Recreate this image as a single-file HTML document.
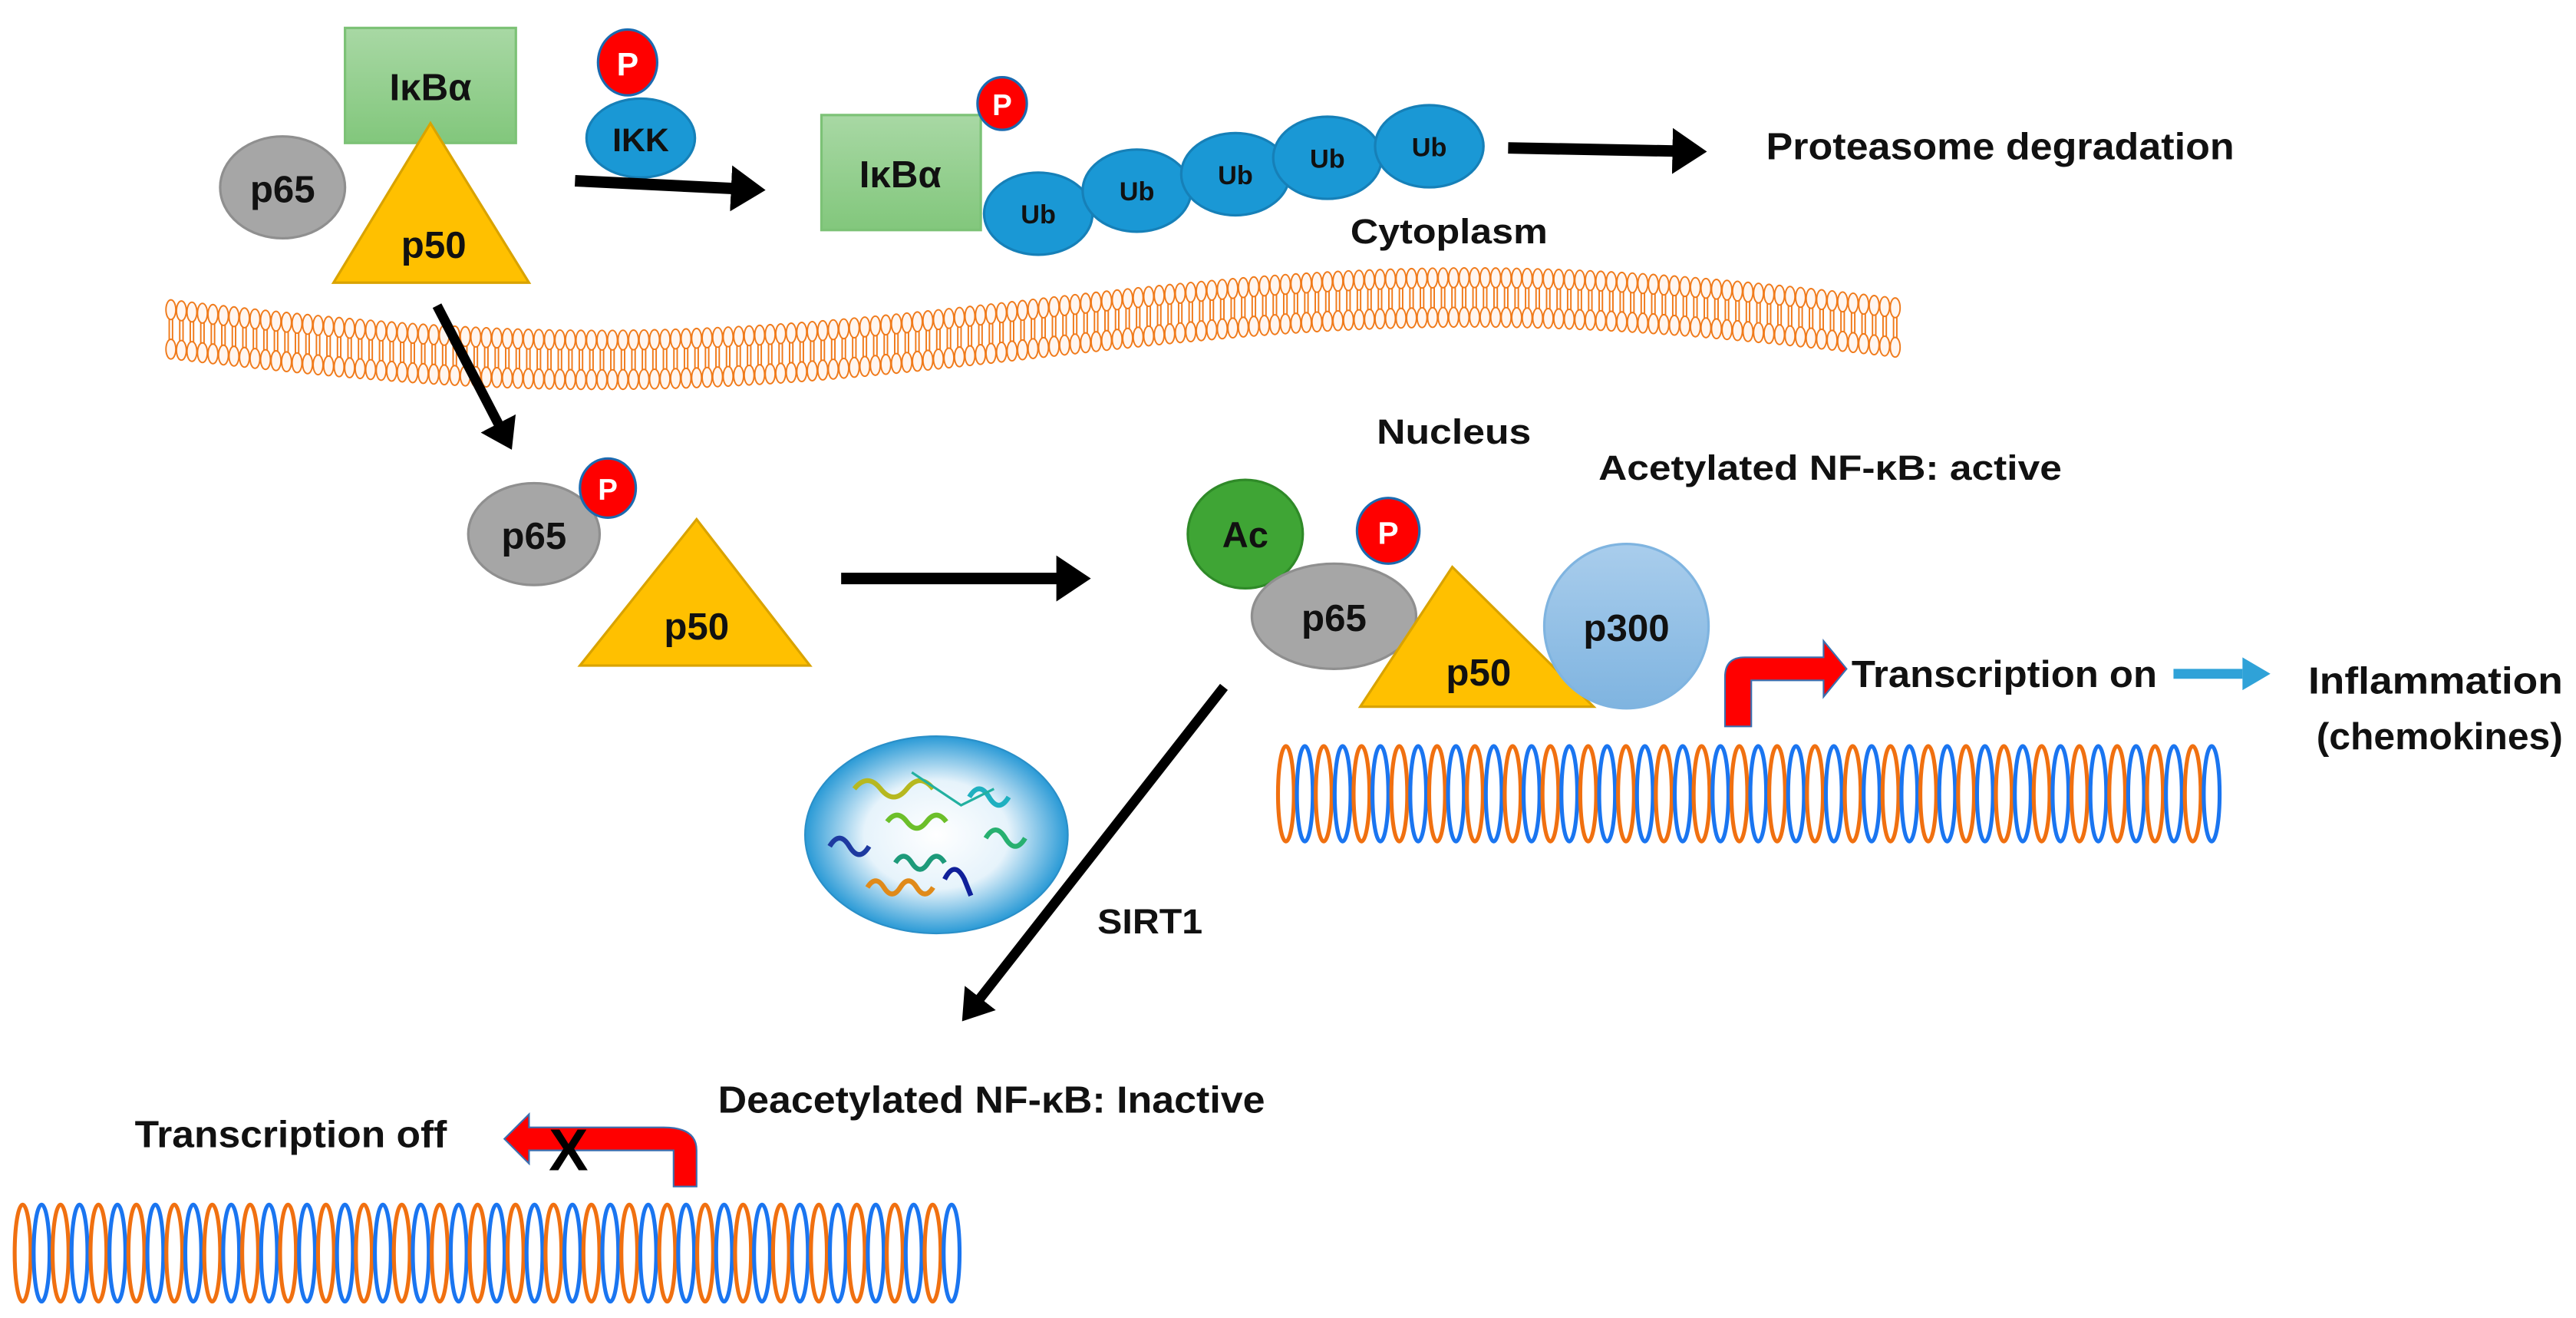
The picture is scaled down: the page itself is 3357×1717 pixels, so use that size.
<!DOCTYPE html>
<html><head><meta charset="utf-8">
<style>
html,body{margin:0;padding:0;background:#fff;}
svg{display:block;}
text{font-family:"Liberation Sans",sans-serif;font-weight:bold;fill:#111;}
</style></head><body>
<svg id="s" width="3357" height="1717" viewBox="0 0 1568 802" xmlns="http://www.w3.org/2000/svg">
<defs>
<linearGradient id="gr" x1="0" y1="0" x2="0" y2="1"><stop offset="0" stop-color="#a8d8a4"/><stop offset="1" stop-color="#82c77c"/></linearGradient>
<linearGradient id="bl" x1="0" y1="0" x2="0" y2="1"><stop offset="0" stop-color="#a9cdec"/><stop offset="1" stop-color="#7fb4e0"/></linearGradient>
<radialGradient id="sg" cx="0.5" cy="0.5" r="0.5"><stop offset="0" stop-color="#fff"/><stop offset="0.55" stop-color="#e6f3fb"/><stop offset="1" stop-color="#2a9ad6"/></radialGradient>
<marker id="ah" markerWidth="4" markerHeight="4" refX="1" refY="2" orient="auto" markerUnits="strokeWidth"><path d="M0,0 L3,2 L0,4Z" fill="#000"/></marker>
</defs>
<g id="mem"></g>

<!-- top complex -->
<rect x="210" y="17" width="104" height="70" fill="url(#gr)" stroke="#7cc276" stroke-width="1.5"/>
<text x="262" y="61" font-size="23" text-anchor="middle">IκBα</text>
<ellipse cx="172" cy="114" rx="38" ry="31" fill="#a6a6a6" stroke="#8f8f8f" stroke-width="1.5"/>
<text x="172" y="123" font-size="23" text-anchor="middle">p65</text>
<polygon points="262,75 203,172 322,172" fill="#ffc000" stroke="#d9a300" stroke-width="1.5"/>
<text x="264" y="157" font-size="23" text-anchor="middle">p50</text>
<ellipse cx="390" cy="84" rx="33" ry="24" fill="#1a98d5" stroke="#1680b8" stroke-width="1.5"/>
<text x="390" y="92" font-size="20" text-anchor="middle">IKK</text>
<ellipse cx="382" cy="38" rx="18" ry="20" fill="#f00" stroke="#1a6ab0" stroke-width="1.5"/>
<text x="382" y="46" font-size="20" text-anchor="middle" style="fill:#fff">P</text>
<line x1="350" y1="110" x2="452" y2="115" stroke="#000" stroke-width="7" marker-end="url(#ah)"/>

<rect x="500" y="70" width="97" height="70" fill="url(#gr)" stroke="#7cc276" stroke-width="1.5"/>
<text x="548" y="114" font-size="23" text-anchor="middle">IκBα</text>
<ellipse cx="610" cy="63" rx="15" ry="16" fill="#f00" stroke="#1a6ab0" stroke-width="1.5"/>
<text x="610" y="70" font-size="18" text-anchor="middle" style="fill:#fff">P</text>
<g fill="#1a98d5" stroke="#1680b8" stroke-width="1.5">
<ellipse cx="632" cy="130" rx="33" ry="25"/>
<ellipse cx="692" cy="116" rx="33" ry="25"/>
<ellipse cx="752" cy="106" rx="33" ry="25"/>
<ellipse cx="808" cy="96" rx="33" ry="25"/>
<ellipse cx="870" cy="89" rx="33" ry="25"/>
</g>
<g font-size="16" text-anchor="middle">
<text x="632" y="136">Ub</text><text x="692" y="122">Ub</text><text x="752" y="112">Ub</text><text x="808" y="102">Ub</text><text x="870" y="95">Ub</text>
</g>
<line x1="918" y1="90" x2="1025" y2="92" stroke="#000" stroke-width="7" marker-end="url(#ah)"/>
<text x="1075" y="97" font-size="23" textLength="285" lengthAdjust="spacingAndGlyphs">Proteasome degradation</text>
<text x="822" y="148" font-size="21" textLength="120" lengthAdjust="spacingAndGlyphs">Cytoplasm</text>

<!-- middle -->
<line x1="266" y1="186" x2="306" y2="263" stroke="#000" stroke-width="6" marker-end="url(#ah)"/>
<ellipse cx="325" cy="325" rx="40" ry="31" fill="#a6a6a6" stroke="#8f8f8f" stroke-width="1.5"/>
<text x="325" y="334" font-size="23" text-anchor="middle">p65</text>
<polygon points="424,316 353,405 493,405" fill="#ffc000" stroke="#d9a300" stroke-width="1.5"/>
<text x="424" y="389" font-size="23" text-anchor="middle">p50</text>
<ellipse cx="370" cy="297" rx="17" ry="18" fill="#f00" stroke="#1a6ab0" stroke-width="1.5"/>
<text x="370" y="304" font-size="18" text-anchor="middle" style="fill:#fff">P</text>
<line x1="512" y1="352" x2="650" y2="352" stroke="#000" stroke-width="7" marker-end="url(#ah)"/>

<text x="838" y="270" font-size="21" textLength="94" lengthAdjust="spacingAndGlyphs">Nucleus</text>
<text x="973" y="292" font-size="21" textLength="282" lengthAdjust="spacingAndGlyphs">Acetylated NF-κB: active</text>
<ellipse cx="758" cy="325" rx="35" ry="33" fill="#3fa535" stroke="#2f8a28" stroke-width="1.5"/>
<text x="758" y="333" font-size="22" text-anchor="middle">Ac</text>
<ellipse cx="812" cy="375" rx="50" ry="32" fill="#a6a6a6" stroke="#8f8f8f" stroke-width="1.5"/>
<text x="812" y="384" font-size="23" text-anchor="middle">p65</text>
<ellipse cx="845" cy="323" rx="19" ry="20" fill="#f00" stroke="#1a6ab0" stroke-width="1.5"/>
<text x="845" y="331" font-size="19" text-anchor="middle" style="fill:#fff">P</text>
<polygon points="884,345 828,430 970,430" fill="#ffc000" stroke="#d9a300" stroke-width="1.5"/>
<ellipse cx="990" cy="381" rx="50" ry="50" fill="url(#bl)" stroke="#7fb4e0" stroke-width="1.5"/>
<text x="990" y="390" font-size="23" text-anchor="middle">p300</text>
<text x="900" y="417" font-size="23" text-anchor="middle">p50</text>
<path d="M1050,442 L1050,412 Q1050,400 1062,400 L1110,400 L1110,390 L1124,407 L1110,424 L1110,414 L1066,414 L1066,442 Z" fill="#f00" stroke="#3a6fb0" stroke-width="1"/>
<text x="1127" y="418" font-size="23" textLength="186" lengthAdjust="spacingAndGlyphs">Transcription on</text>
<line x1="1323" y1="410" x2="1365" y2="410" stroke="#2fa2d8" stroke-width="6"/>
<polygon points="1365,400 1382,410 1365,420" fill="#2fa2d8"/>
<text x="1405" y="422" font-size="23" textLength="155" lengthAdjust="spacingAndGlyphs">Inflammation</text>
<text x="1410" y="456" font-size="23" textLength="150" lengthAdjust="spacingAndGlyphs">(chemokines)</text>
<g id="dna1"></g>

<!-- SIRT1 -->
<ellipse cx="570" cy="508" rx="80" ry="60" fill="url(#sg)" stroke="#2a8fc8" stroke-width="1"/>
<g fill="none" stroke-width="3">
<path d="M520,480 q8,-10 16,0 q8,10 16,0 q8,-10 16,0" stroke="#b6b820"/>
<path d="M540,500 q6,-8 12,0 q6,8 12,0 q6,-8 12,0" stroke="#6cbf2a"/>
<path d="M590,485 q6,-10 12,0 q6,10 12,0" stroke="#1fb0c0"/>
<path d="M600,510 q6,-10 12,0 q6,10 12,0" stroke="#27b070"/>
<path d="M545,525 q5,-8 10,0 q5,8 10,0 q5,-8 10,0" stroke="#1d9a7a"/>
<path d="M528,540 q5,-8 10,0 q5,8 10,0 q5,-8 10,0 q5,8 10,0" stroke="#e08a1a"/>
<path d="M505,515 q6,-10 12,0 q6,10 12,0" stroke="#1e3aa0"/>
<path d="M575,535 q6,-12 12,0 l4,10" stroke="#10209a"/>
<path d="M555,470 l30,20 l20,-10" stroke="#22b0a0" stroke-width="1.5"/>
</g>
<line x1="745" y1="418" x2="593" y2="612" stroke="#000" stroke-width="6" marker-end="url(#ah)"/>
<text x="668" y="568" font-size="21" textLength="64" lengthAdjust="spacingAndGlyphs">SIRT1</text>

<text x="437" y="677" font-size="23" textLength="333" lengthAdjust="spacingAndGlyphs">Deacetylated NF-κB: Inactive</text>
<text x="82" y="698" font-size="23" textLength="190" lengthAdjust="spacingAndGlyphs">Transcription off</text>
<path d="M410,722 L410,700 L322,700 L322,708 L307,693 L322,678 L322,686 L404,686 Q424,686 424,700 L424,722 Z" fill="#f00" stroke="#3a6fb0" stroke-width="1"/>
<text x="346" y="712" font-size="36" text-anchor="middle" style="fill:#000">X</text>
<g id="dna2"></g>
</svg>
<script>
var NS="http://www.w3.org/2000/svg";
function el(p,t,a){var e=document.createElementNS(NS,t);for(var k in a)e.setAttribute(k,a[k]);p.appendChild(e);return e;}
var m=document.getElementById("mem");
function cy(x){return 200+19*Math.sin(2*Math.PI*(x-100)/1060);}
for(var x=104;x<=1158;x+=6.4){
 var c=cy(x);
 [[-1,-7,7],[1,-7,7]].forEach(function(a){
  el(m,"line",{x1:x+a[0],y1:c+a[1],x2:x+a[0],y2:c+a[2],stroke:"#f07a1a","stroke-width":0.9});
 });
 el(m,"ellipse",{cx:x,cy:c-12,rx:3,ry:6,fill:"#fff6f0",stroke:"#f07a1a","stroke-width":0.9});
 el(m,"ellipse",{cx:x,cy:c+12,rx:3,ry:6,fill:"#fff6f0",stroke:"#f07a1a","stroke-width":0.9});
}
function dna(id,x0,x1,y0,y1){
 var g=document.getElementById(id);var n=50;var sp=(x1-x0)/n;
 for(var i=0;i<n;i++){
  el(g,"ellipse",{cx:x0+sp*(i+0.5),cy:(y0+y1)/2,rx:sp*0.42,ry:(y1-y0)/2,fill:"none",stroke:i%2?"#1a75f0":"#f07010","stroke-width":2.4});
 }
}
dna("dna1",777,1352,454,512);
dna("dna2",8,585,733,792);
</script>
</body></html>
